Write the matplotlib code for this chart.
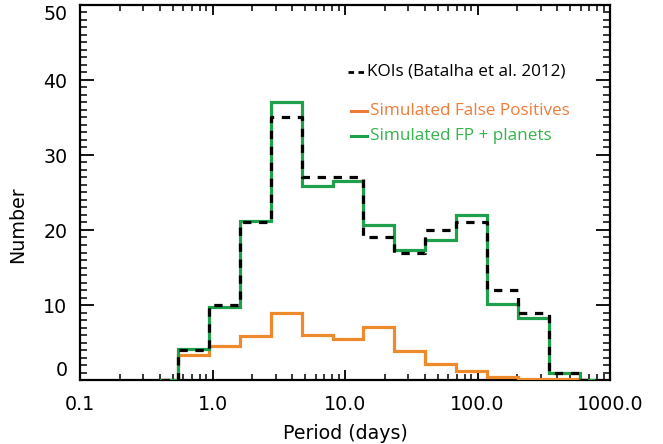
import numpy as np
import matplotlib
matplotlib.use("Agg")
import matplotlib.pyplot as plt
from matplotlib.lines import Line2D
from matplotlib.ticker import FixedLocator, NullFormatter

# ---------------- data ----------------
# log-spaced period bins (days); first and last bins are empty padding bins
bin_lo = 0.53
bin_hi = 570.0
n_bins = 13

koi_counts = [0, 4, 10, 21, 35, 27, 27, 19, 17, 20, 21, 12, 9, 1, 0]
fp_counts = [0, 3.4, 4.5, 5.9, 8.9, 6.0, 5.5, 7.1, 3.9, 2.2, 1.2, 0.45, 0.2, 0.1, 0]
fp_planet_counts = [0, 4.2, 9.8, 21.2, 37.1, 25.9, 26.5, 20.7, 17.4, 18.7, 22.0, 10.2, 8.3, 1.0, 0]

legend_labels = ["KOIs (Batalha et al. 2012)", "Simulated False Positives",
                 "Simulated FP + planets"]
x_ticks = [0.1, 1.0, 10.0, 100.0, 1000.0]
x_tick_labels = ["0.1", "1.0", "10.0", "100.0", "1000.0"]
y_ticks = [0, 10, 20, 30, 40, 50]
y_tick_labels = ["0", "10", "20", "30", "40", "50"]

# bin centers (log space), including one padding bin on each side
step = (np.log10(bin_hi) - np.log10(bin_lo)) / n_bins
centers = 10 ** (np.log10(bin_lo) + step * (np.arange(-1, n_bins + 1) + 0.5))

# ---------------- style ----------------
ORANGE = "#EE8A2C"
GREEN = "#1FA04A"
ORANGE_TXT = "#F07C3A"
GREEN_TXT = "#35B34A"
TICK_FONT = "DejaVu Sans"
LEG_FONT = "Open Sans"

W, H = 663, 444
fig = plt.figure(figsize=(W / 100, H / 100), dpi=100)
ax = fig.add_axes([80 / W, 1 - 380 / H, 530 / W, 375 / H])

lw = 2.3
ax.plot(centers, fp_counts, drawstyle="steps-mid", color=ORANGE, lw=lw,
        solid_joinstyle="miter", zorder=3)
ax.plot(centers, fp_planet_counts, drawstyle="steps-mid", color=GREEN, lw=lw,
        solid_joinstyle="miter", zorder=4)
ax.plot(centers, koi_counts, drawstyle="steps-mid", color="black", lw=lw,
        linestyle=(0, (2.6, 2.4)), zorder=5)

ax.set_xscale("log")
ax.set_xlim(0.1, 1000.0)
ax.set_ylim(0, 50)

ax.xaxis.set_major_locator(FixedLocator(x_ticks))
ax.set_xticklabels(x_tick_labels)
minors = [m * 10.0 ** e for e in range(-1, 3) for m in range(2, 10)]
ax.xaxis.set_minor_locator(FixedLocator(minors))
ax.xaxis.set_minor_formatter(NullFormatter())
ax.set_yticks(y_ticks)
ax.set_yticklabels(y_tick_labels)
ax.yaxis.set_minor_locator(FixedLocator(np.arange(0, 51, 1)))

for s in ax.spines.values():
    s.set_linewidth(1.6)

ax.tick_params(axis="x", which="major", direction="in", length=7, width=1.3,
               top=True, bottom=True, labelsize=13.7, pad=11)
ax.tick_params(axis="x", which="minor", direction="in", length=4, width=1.1,
               top=True, bottom=True)
ax.tick_params(axis="y", which="major", direction="in", length=10, width=1.3,
               left=True, right=True, labelsize=13.7, pad=9)
ax.tick_params(axis="y", which="minor", direction="in", length=5, width=1.1,
               left=True, right=True)
for lbl in ax.get_xticklabels() + ax.get_yticklabels():
    lbl.set_fontfamily(TICK_FONT)

ylbls = ax.get_yticklabels()
ylbls[-1].set_verticalalignment("top")
ylbls[0].set_verticalalignment("bottom")

fig.text(345 / W, 1 - 433 / H, "Period (days)", ha="center", va="center",
         fontsize=13.7, family=TICK_FONT)
fig.text(18 / W, 1 - 225 / H, "Number", ha="center", va="center",
         rotation=90, fontsize=13.7, family=TICK_FONT)

# ---------------- legend (manual) ----------------
def handle(x0, x1, y, **kw):
    fig.add_artist(Line2D([x0 / W, x1 / W], [1 - y / H, 1 - y / H],
                          transform=fig.transFigure, **kw))

LEG_SIZE = 12.3
handle(348, 364, 72, color="black", lw=2.0, linestyle=(0, (2.0, 1.6)))
fig.text(367 / W, 1 - 72 / H, legend_labels[0], ha="left", va="center",
         fontsize=LEG_SIZE, family=LEG_FONT, color="black")
handle(351, 367, 111, color=ORANGE_TXT, lw=2.2)
fig.text(370 / W, 1 - 111 / H, legend_labels[1], ha="left", va="center",
         fontsize=LEG_SIZE, family=LEG_FONT, color=ORANGE_TXT)
handle(351, 367, 136, color=GREEN, lw=2.2)
fig.text(370 / W, 1 - 136 / H, legend_labels[2], ha="left", va="center",
         fontsize=LEG_SIZE, family=LEG_FONT, color=GREEN_TXT)

fig.savefig("out.png", dpi=100)
